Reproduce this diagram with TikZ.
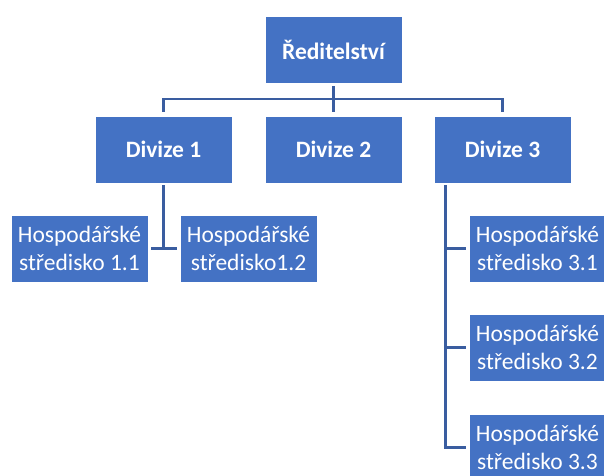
\documentclass[tikz,border=0pt]{standalone}
\usepackage{fontspec}
\setmainfont{Carlito}
\definecolor{boxblue}{HTML}{4472C4}
\definecolor{lineblue}{HTML}{3A5DA0}
\tikzset{
  orgbox/.style={fill=boxblue, draw=white, line width=0.8pt, minimum width=137pt, minimum height=67pt, inner sep=0pt, text=white, align=center, font=\fontsize{23.5}{27.5}\selectfont},
  topbox/.style={orgbox, font=\bfseries\fontsize{23.5}{27.5}\selectfont},
  conn/.style={draw=lineblue, line width=2.3pt, line cap=butt},
}
\begin{document}
\begin{tikzpicture}[x=1pt,y=-1pt]
\path[use as bounding box, clip] (0,0) rectangle (604,475);
\node[topbox] (R) at (333.5,49.5) {Ředitelství};
\node[topbox] (D1) at (163.5,149.5) {Divize 1};
\node[topbox] (D2) at (333.5,149.5) {Divize 2};
\node[topbox] (D3) at (502.5,149.5) {Divize 3};
\node[orgbox] (H11) at (79.5,248.5) {Hospodářské\\středisko 1.1};
\node[orgbox] (H12) at (248.5,248.5) {Hospodářské\\středisko1.2};
\node[orgbox] (H31) at (537.5,248.5) {Hospodářské\\středisko 3.1};
\node[orgbox] (H32) at (537.5,347.5) {Hospodářské\\středisko 3.2};
\node[orgbox] (H33) at (537.5,447.5) {Hospodářské\\středisko 3.3};
% top bus
\coordinate (bus) at (333.5,99);
\draw[conn, shorten <=3pt] (R.south) -- (bus);
\draw[conn, shorten >=4pt] (D1.north |- bus) -- (D1.north);
\draw[conn, shorten >=4pt] (D2.north |- bus) -- (D2.north);
\draw[conn, shorten >=4pt] (D3.north |- bus) -- (D3.north);
\draw[conn] ([xshift=-1.15pt]D1.north |- bus) -- ([xshift=1.15pt]D3.north |- bus);
% Divize 1 children
\draw[conn, shorten <=2pt] (D1.south) -- (D1.south |- H11.east);
\draw[conn, shorten <=3pt, shorten >=3pt] (H11.east) -- (H12.west);
% Divize 3 children
\coordinate (v3) at ([xshift=12pt]D3.south west);
\draw[conn, shorten <=2pt] (v3) -- ([yshift=-1.15pt]v3 |- H33.west);
\draw[conn, shorten >=3pt] (v3 |- H31.west) -- (H31.west);
\draw[conn, shorten >=3pt] (v3 |- H32.west) -- (H32.west);
\draw[conn, shorten >=3pt] (v3 |- H33.west) -- (H33.west);
\end{tikzpicture}
\end{document}
